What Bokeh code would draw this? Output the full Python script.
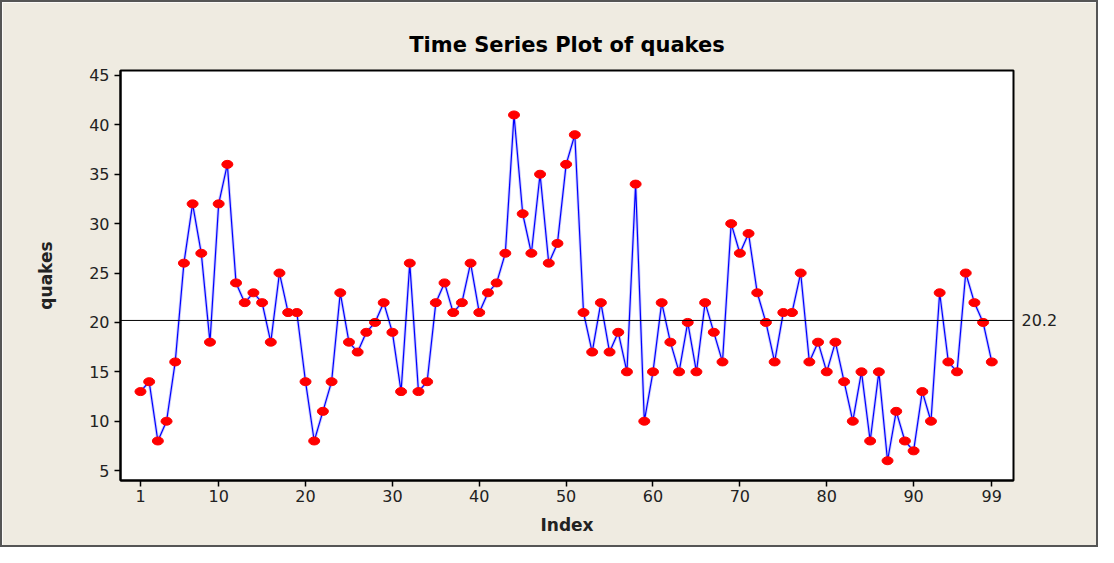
from bokeh.plotting import figure
from bokeh.models import Span, LinearAxis, FixedTicker, Range1d
from bokeh.embed import file_html
from bokeh.resources import INLINE

quakes = [13, 14, 8, 10, 16, 26, 32, 27, 18, 32, 36, 24, 22, 23, 22, 18, 25, 21, 21, 14,
          8, 11, 14, 23, 18, 17, 19, 20, 22, 19, 13, 26, 13, 14, 22, 24, 21, 22, 26, 21,
          23, 24, 27, 41, 31, 27, 35, 26, 28, 36, 39, 21, 17, 22, 17, 19, 15, 34, 10, 15,
          22, 18, 15, 20, 15, 22, 19, 16, 30, 27, 29, 23, 20, 16, 21, 21, 25, 16, 18, 15,
          18, 14, 10, 15, 8, 15, 6, 11, 8, 7, 13, 10, 23, 16, 15, 25, 22, 20, 16]
index = list(range(1, len(quakes) + 1))
x_ticks = [1, 10, 20, 30, 40, 50, 60, 70, 80, 90, 99]
y_ticks = [5, 10, 15, 20, 25, 30, 35, 40, 45]
mean_label = 20.2  # mean reference line value as printed on the chart

FONT = "DejaVu Sans"
BG = "#EFEBE1"

p = figure(width=1098, height=547, output_backend="svg", toolbar_location=None,
           x_range=Range1d(-1.3, 101.5), y_range=Range1d(4.0, 45.5),
           min_border_left=118, min_border_right=87, min_border_top=68, min_border_bottom=69,
           title="Time Series Plot of quakes")
p.styles = {"border": "2px solid #555555", "box-sizing": "border-box"}
p.background_fill_color = "white"
p.border_fill_color = BG
p.outline_line_color = "black"
p.outline_line_width = 2
p.xgrid.visible = False
p.ygrid.visible = False

p.title.align = "center"
p.title.text_font = FONT
p.title.text_font_size = "21px"
p.title.text_font_style = "bold"
p.title.text_color = "black"
p.title.standoff = 27

for ax in (p.xaxis[0], p.yaxis[0]):
    ax.axis_line_width = 2
    ax.axis_line_color = "black"
    ax.major_tick_line_width = 1.5
    ax.major_tick_line_color = "black"
    ax.major_tick_out = 6
    ax.major_tick_in = 0
    ax.minor_tick_line_color = None
    ax.major_label_text_font = FONT
    ax.major_label_text_font_size = "16px"
    ax.major_label_text_color = "#222222"
    ax.axis_label_text_font = FONT
    ax.axis_label_text_font_style = "bold"
    ax.axis_label_text_font_size = "17px"
    ax.axis_label_text_color = "#222222"

p.xaxis[0].ticker = FixedTicker(ticks=x_ticks)
p.yaxis[0].ticker = FixedTicker(ticks=y_ticks)
p.xaxis[0].axis_label = "Index"
p.yaxis[0].axis_label = "quakes"
p.xaxis[0].major_label_standoff = 3
p.xaxis[0].axis_label_standoff = 10
p.yaxis[0].axis_label_standoff = 30

mean_line = Span(location=mean_label, dimension="width", line_color="black", line_width=1)
p.add_layout(mean_line)

right_ax = LinearAxis(ticker=FixedTicker(ticks=[mean_label]), axis_line_color=None,
                      major_tick_line_color=None, minor_tick_line_color=None,
                      major_tick_out=0, major_tick_in=0,
                      major_label_overrides={mean_label: f"{mean_label:.1f}"},
                      major_label_text_font=FONT, major_label_text_font_size="16px",
                      major_label_text_color="#222222", major_label_standoff=8)
p.add_layout(right_ax, "right")

p.line(index, quakes, line_color="#9999FF", line_width=3, line_alpha=0.5)
p.line(index, quakes, line_color="#0000FF", line_width=1.2)
p.ellipse(index, quakes, width=11, height=8, width_units="screen", height_units="screen",
          fill_color="#FF0000", line_color="#FF0000")

open("out.html", "w").write(file_html(p, INLINE))
